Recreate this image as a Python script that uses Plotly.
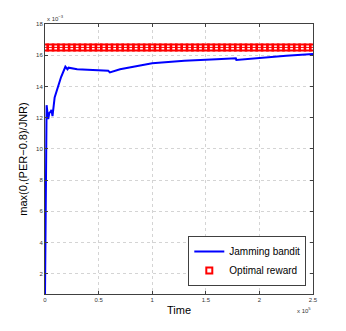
import plotly.graph_objects as go

# Jamming bandit curve (time in samples, reward in absolute units)
bandit_time = [0, 800, 1500, 3000, 4000, 5500, 6000, 7000, 9000, 15000, 19000, 21000,
               22000, 30000, 40000, 59000, 60500, 70000, 100000, 130000, 160000,
               178000, 178500, 200000, 225000, 250000]
bandit_reward = [0.0007, 0.0060, 0.0128, 0.0119, 0.0123, 0.0124, 0.0125, 0.0121, 0.0133,
                 0.0146, 0.01526, 0.0151, 0.0152, 0.0151, 0.01505, 0.0150, 0.0149, 0.0151,
                 0.01548, 0.01565, 0.01574, 0.01580, 0.01570, 0.01583, 0.01596, 0.01608]

optimal_time = list(range(0, 250001, 5000))
optimal_reward = [0.0165] * len(optimal_time)

x_ticks = [0, 50000, 100000, 150000, 200000, 250000]
x_tick_labels = ['0', '0.5', '1', '1.5', '2', '2.5']
y_ticks = [0.002, 0.004, 0.006, 0.008, 0.010, 0.012, 0.014, 0.016, 0.018]
y_tick_labels = ['2', '4', '6', '8', '10', '12', '14', '16', '18']

fig = go.Figure()
fig.add_trace(go.Scatter(x=bandit_time, y=bandit_reward,
                         mode='lines',
                         line=dict(color='#0000ff', width=2),
                         name='Jamming bandit'))
# thin line under the markers, kept out of the legend
fig.add_trace(go.Scatter(x=optimal_time, y=optimal_reward,
                         mode='lines', line=dict(color='red', width=1),
                         showlegend=False, hoverinfo='skip'))
fig.add_trace(go.Scatter(x=optimal_time, y=optimal_reward,
                         mode='markers',
                         marker=dict(symbol='square-open', size=6, color='red',
                                     line=dict(width=2, color='red')),
                         name='Optimal reward'))

axis_common = dict(showline=True, linecolor='#404040', linewidth=1, mirror='ticks',
                   ticks='inside', ticklen=3, tickcolor='#404040',
                   showgrid=True, gridcolor='#d4d4d4', griddash='dot', gridwidth=1,
                   zeroline=False, automargin=False,
                   tickfont=dict(size=6, color='#333333'))

fig.update_layout(
    width=346, height=331,
    margin=dict(l=45, r=33, t=24, b=37),
    paper_bgcolor='white', plot_bgcolor='white',
    font=dict(family='Liberation Sans, Arial, sans-serif', color='black'),
    xaxis=dict(range=[0, 250000], tickvals=x_ticks, ticktext=x_tick_labels,
               title=dict(text='Time', font=dict(size=11), standoff=4), **axis_common),
    yaxis=dict(range=[0.0007, 0.018], tickvals=y_ticks, ticktext=y_tick_labels,
               title=dict(text='max(0,(PER\u22120.8)/JNR)', font=dict(size=11), standoff=6),
               **axis_common),
    legend=dict(x=0.975, y=0.03, xanchor='right', yanchor='bottom',
                bgcolor='white', bordercolor='#404040', borderwidth=1,
                font=dict(size=10), traceorder='normal',
                itemwidth=30, tracegroupgap=0),
    showlegend=True,
)

fig.add_annotation(x=0, y=1, xref='paper', yref='paper', xanchor='left', yanchor='bottom',
                   text='x 10<sup>\u22123</sup>', showarrow=False,
                   font=dict(size=6, color='#333333'))
fig.add_annotation(x=1, y=0, xref='paper', yref='paper', xanchor='right', yanchor='top',
                   yshift=-10, text='x 10<sup>5</sup>', showarrow=False,
                   font=dict(size=6, color='#333333'))

# drop the default page margin so the figure sits at the window's corner
fig.write_html("out.html", config={'displayModeBar': False},
               post_script="document.body.style.margin='0';")
